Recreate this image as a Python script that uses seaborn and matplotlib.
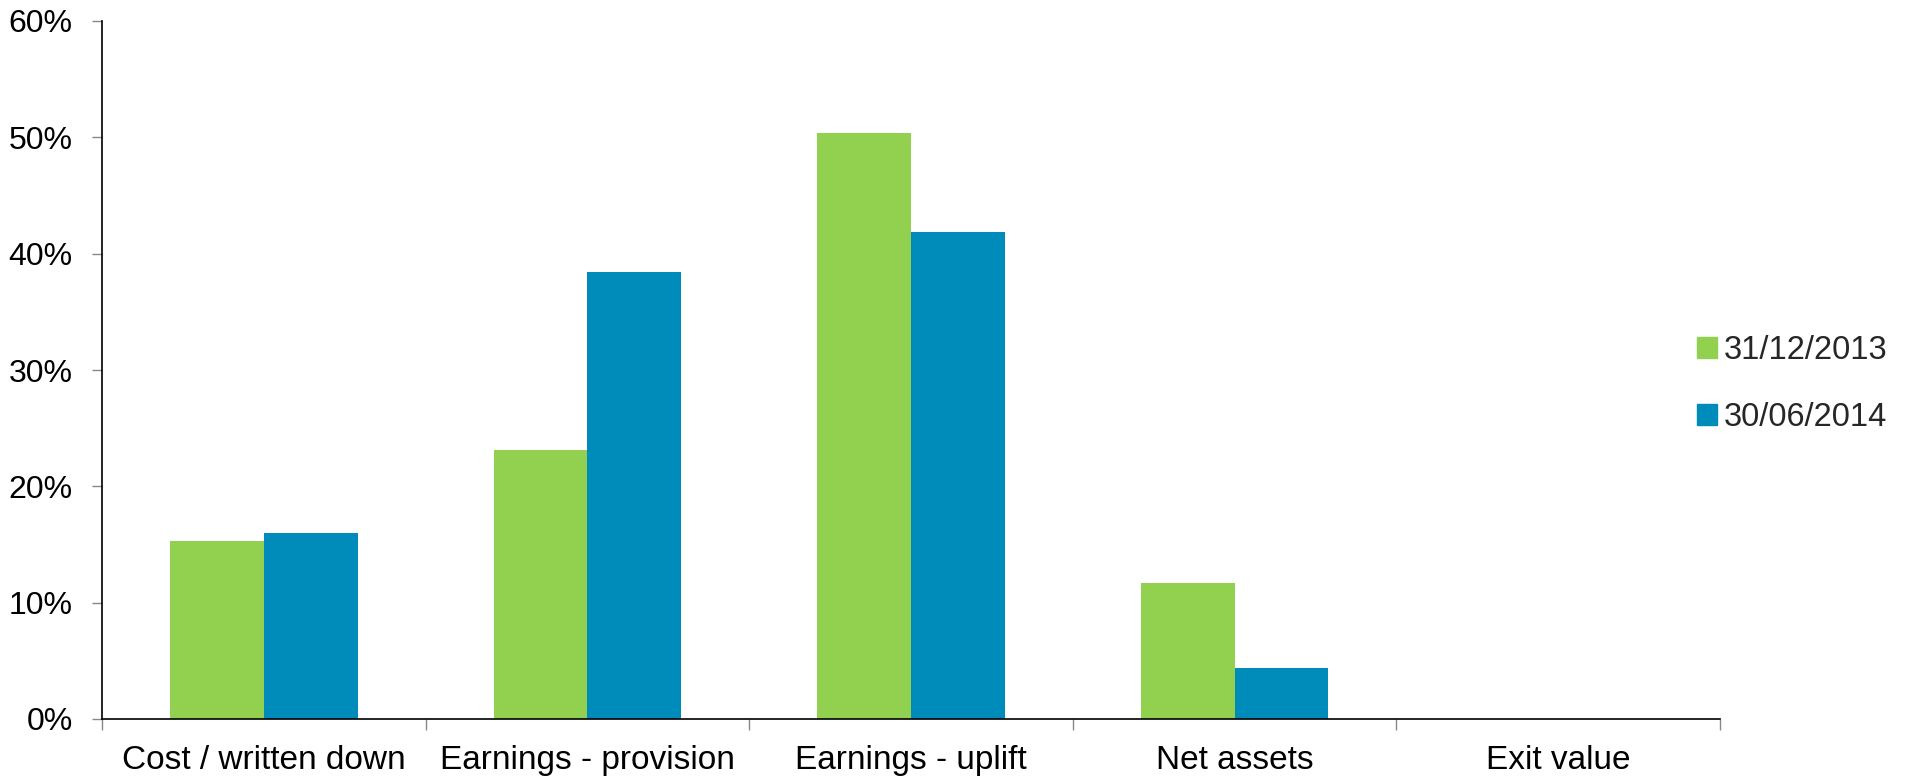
import matplotlib
matplotlib.use("Agg")
import matplotlib.pyplot as plt
import seaborn as sns
import pandas as pd
import numpy as np
from matplotlib.ticker import FixedLocator, PercentFormatter

categories = ["Cost / written down", "Earnings - provision", "Earnings - uplift",
              "Net assets", "Exit value"]
series_names = ["31/12/2013", "30/06/2014"]
values_2013 = [15.3, 23.1, 50.4, 11.7, 0.0]
values_2014 = [16.0, 38.4, 41.9, 4.4, 0.0]
y_ticks = [0, 10, 20, 30, 40, 50, 60]
colors = ["#92D050", "#008CBA"]

df = pd.DataFrame({
    "category": categories * 2,
    "period": [series_names[0]] * len(categories) + [series_names[1]] * len(categories),
    "value": values_2013 + values_2014,
})

sns.set_theme(style="white")
plt.rcParams["font.family"] = ["Liberation Sans", "DejaVu Sans"]

W, H = 1910, 779
fig = plt.figure(figsize=(W / 100, H / 100), dpi=100)
ax = fig.add_axes([102 / W, 1 - 719 / H, (1720 - 102) / W, (719 - 21) / H])

sns.barplot(data=df, x="category", y="value", hue="period", order=categories,
            hue_order=series_names, palette=colors, width=0.58, gap=0,
            saturation=1, ax=ax, linewidth=0)

ax.set_ylim(0, 60)
ax.set_xlim(-0.5, len(categories) - 0.5)
ax.yaxis.set_major_locator(FixedLocator(y_ticks))
ax.yaxis.set_major_formatter(PercentFormatter(decimals=0))
ax.set_xlabel("")
ax.set_ylabel("")

for side in ("top", "right"):
    ax.spines[side].set_visible(False)
for side in ("left", "bottom"):
    ax.spines[side].set_color("black")
    ax.spines[side].set_linewidth(1.2)

ax.tick_params(axis="y", which="major", direction="out", length=7.2, width=1,
               color="#888888", labelsize=23, labelcolor="black", pad=14, left=True)
ax.tick_params(axis="x", which="major", length=0, labelsize=24,
               labelcolor="black", pad=19)
ax.xaxis.set_minor_locator(FixedLocator(np.arange(len(categories) + 1) - 0.5))
ax.tick_params(axis="x", which="minor", direction="out", length=8, width=1,
               color="#888888", bottom=True)

ax.get_legend().remove()
handles = [plt.Rectangle((0, 0), 1, 1, color=c) for c in colors]
fig.legend(handles, series_names, loc="center left",
           bbox_to_anchor=(1697 / W, 1 - 384 / H), frameon=False,
           fontsize=23.5, handlelength=0.62, handleheight=0.62, handletextpad=0.2,
           labelspacing=1.1, borderaxespad=0, borderpad=0)

fig.savefig("out.png", dpi=100)
